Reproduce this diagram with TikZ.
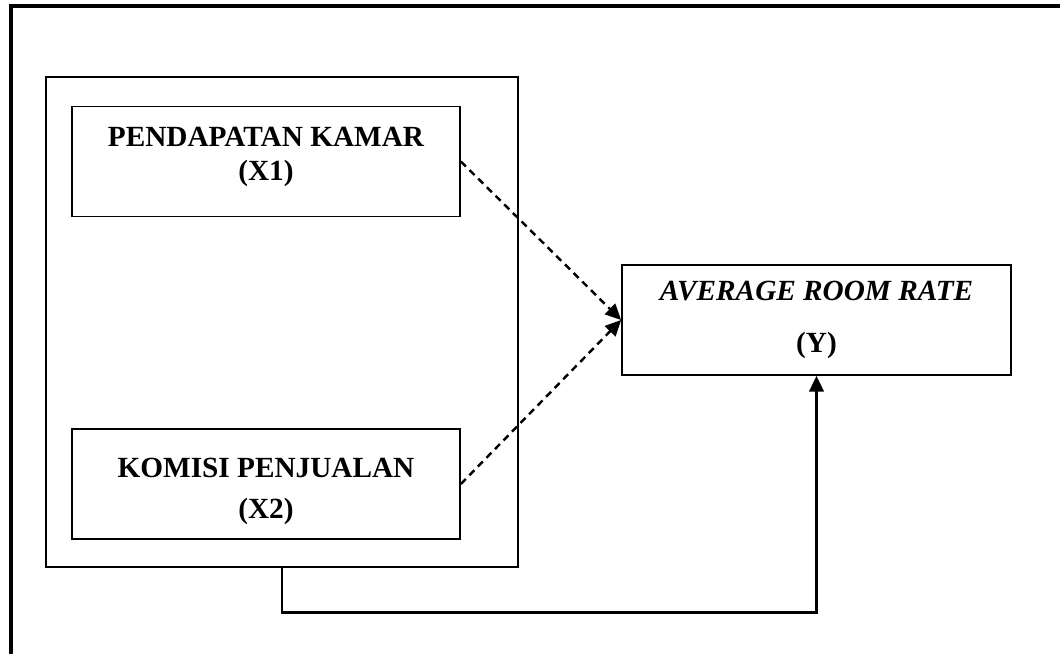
\documentclass[tikz,border=0pt]{standalone}
\usepackage{fontspec}
\setmainfont{Liberation Serif}
\usetikzlibrary{arrows.meta}

\begin{document}
\begin{tikzpicture}[x=0.41pt, y=-0.41pt,
  >={Triangle[length=6.5pt, width=6pt]},
  varbox/.style={draw, line width=0.7pt, inner sep=0pt, align=center,
    minimum width=388*\PX, minimum height=110*\PX,
    font=\fontsize{12}{14}\selectfont\bfseries},
  groupbox/.style={draw, line width=1.1pt, minimum width=472*\PX, minimum height=490*\PX},
  frame/.style={line width=1.3pt},
  link/.style={->, line width=1pt},
  dashlink/.style={link, dash pattern=on 2.9pt off 2.1pt}]

  \newcommand\PX{0.41pt}

  \useasboundingbox (0,0) rectangle (1060,654);

  % outer frame, cut off at the right and bottom
  \draw[frame] (11,660) -- (11,6) -- (1065,6);

  \node[groupbox] (grp) at (282,322) {};
  \node[varbox] (x1) at (266,161.5) {PENDAPATAN KAMAR\\(X1)\rule[-6.4pt]{0pt}{6.4pt}};
  \node[varbox] (x2) at (266,484) {\rule{0pt}{13.8pt}KOMISI PENJUALAN\\[2.8pt](X2)};
  \node[varbox, minimum width=389*\PX] (y) at (816.5,320) {\textit{AVERAGE ROOM RATE}\\[7.3pt](Y)};

  \draw[dashlink] (x1.east) -- (y.west); % X1 -> Y
  \draw[dashlink] (x2.east) -- (y.west); % X2 -> Y
  \draw[link] (grp.south) -- ++(0,44) -| (y.south); % X1, X2 -> Y
\end{tikzpicture}
\end{document}
